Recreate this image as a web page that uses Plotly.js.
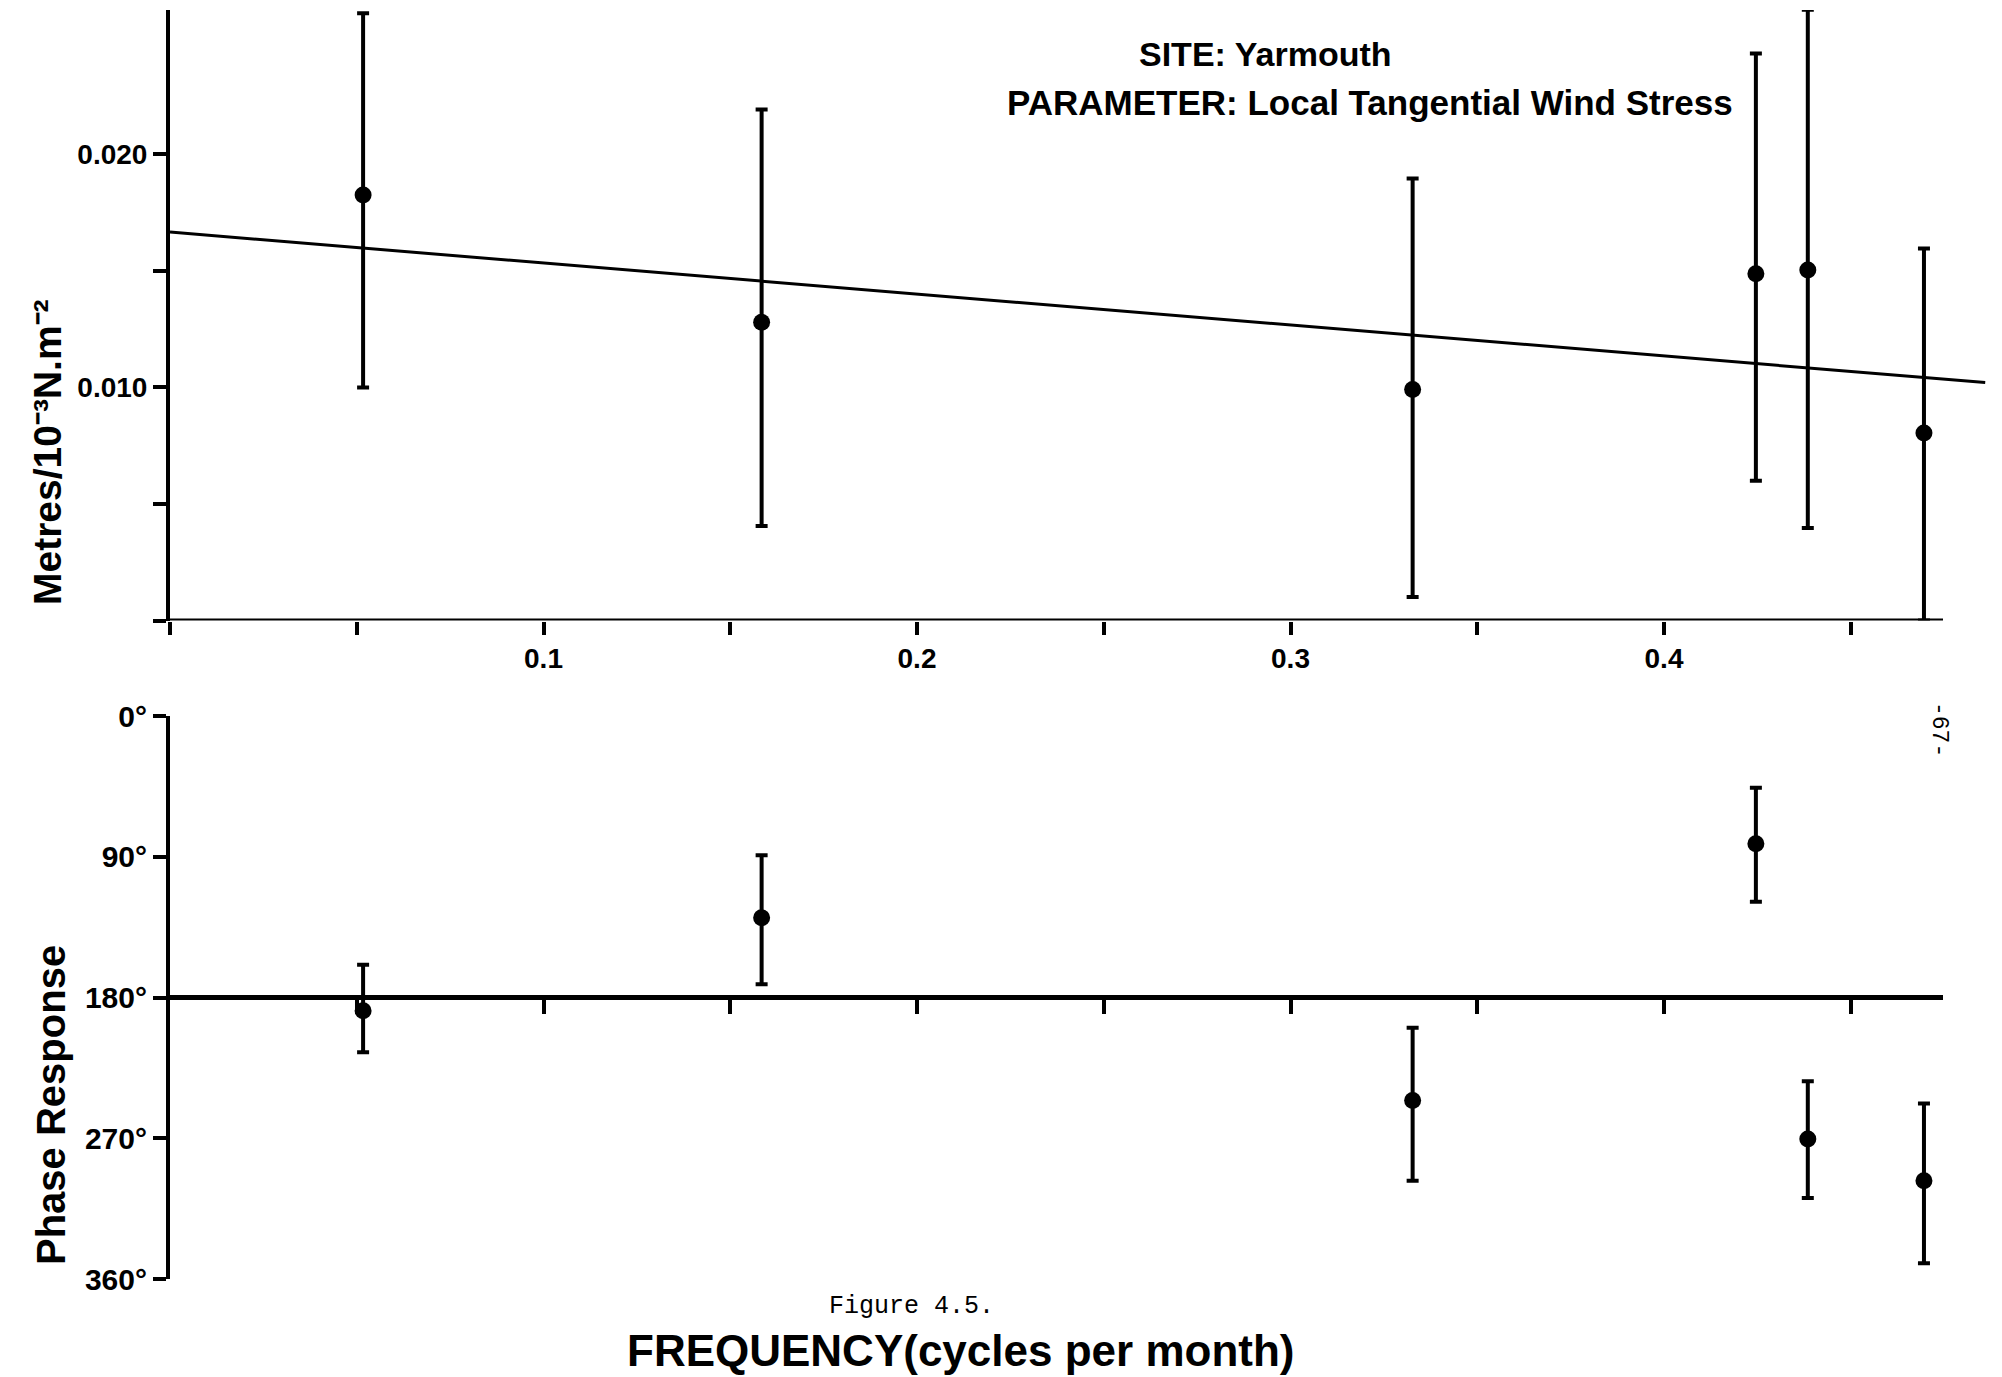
<!DOCTYPE html>
<html>
<head>
<meta charset="utf-8">
<script src="https://cdn.plot.ly/plotly-3.0.1.min.js"></script>
<style>
  html, body { margin: 0; padding: 0; background: #ffffff; }
  #chart { width: 2002px; height: 1377px; }
</style>
</head>
<body>
<div id="chart"></div>
<script>
// ---------------- data ----------------
const freq      = [0.0517, 0.1584, 0.3327, 0.4246, 0.4385, 0.4696];   // cycles per month
const amp       = [0.01826, 0.0128, 0.00991, 0.01488, 0.01504, 0.00805];
const ampHigh   = [0.02606, 0.02193, 0.01897, 0.02433, 0.02621, 0.01596];
const ampLow    = [0.01000, 0.00406, 0.00101, 0.00600, 0.00397, 0.00000];
const phase     = [188.5, 129.0, 245.9, 81.7, 270.5, 297.2];          // degrees
const phaseMin  = [159.0, 89.0, 199.4, 45.8, 233.5, 247.7];
const phaseMax  = [215.0, 171.5, 297.2, 118.7, 308.2, 350.0];
const fitFreq   = [0, 0.486];
const fitAmp    = [0.01667, 0.01021];

const ampTickVals    = [0.010, 0.020];
const ampTickText    = ['0.010', '0.020'];
const ampMinorVals   = [0, 0.005, 0.015];
const freqTickVals   = [0.1, 0.2, 0.3, 0.4];
const freqTickText   = ['0.1', '0.2', '0.3', '0.4'];
const freqMinorVals  = [0, 0.05, 0.15, 0.25, 0.35, 0.45];
const freqMinorVals2 = [0.05, 0.15, 0.25, 0.35, 0.45];
const phaseTickVals  = [0, 90, 180, 270, 360];
const phaseTickText  = ['0°', '90°', '180°', '270°', '360°'];
const phaseRef  = 180;
const xAxisEnd  = 0.4747;

// ---------------- layout helpers ----------------
const W = 2002, H = 1377;
const fx = p => p / W;
const fy = p => 1 - p / H;
const BOLD = 'Liberation Sans, Arial, sans-serif';

const errStyle = { thickness: 4, width: 6, color: '#000' };

const traces = [
  {
    x: fitFreq, y: fitAmp, xaxis: 'x', yaxis: 'y',
    mode: 'lines', line: { color: '#000', width: 3 }, hoverinfo: 'skip'
  },
  {
    x: freq, y: amp, xaxis: 'x', yaxis: 'y', mode: 'markers',
    marker: { color: '#000', size: 17 },
    cliponaxis: false,
    error_y: Object.assign({
      type: 'data', symmetric: false,
      array: ampHigh.map((v, i) => v - amp[i]),
      arrayminus: amp.map((v, i) => v - ampLow[i])
    }, errStyle)
  },
  {
    x: freq, y: phase, xaxis: 'x2', yaxis: 'y2', mode: 'markers',
    marker: { color: '#000', size: 17 },
    cliponaxis: false,
    error_y: Object.assign({
      type: 'data', symmetric: false,
      array: phaseMax.map((v, i) => v - phase[i]),
      arrayminus: phase.map((v, i) => v - phaseMin[i])
    }, errStyle)
  }
];

const xDomain = [fx(170), fx(1990)];
const xRange = [0, (1990 - 170) / 3735];

const tickFont = { family: BOLD, size: 28, color: '#000', weight: 'bold' };
const degFont  = { family: BOLD, size: 30, color: '#000', weight: 'bold' };
const tickStyle = { ticks: 'outside', ticklen: 13, tickwidth: 4, tickcolor: '#000' };
const minorStyle = (vals, len) => ({ tickmode: 'array', tickvals: vals, ticks: 'outside',
                                     ticklen: len, tickwidth: 4, tickcolor: '#000', showgrid: false });

const layout = {
  width: W, height: H,
  margin: { l: 0, r: 0, t: 0, b: 0, pad: 0 },
  paper_bgcolor: '#fff', plot_bgcolor: 'rgba(0,0,0,0)',
  showlegend: false,
  xaxis: Object.assign({
    domain: xDomain, range: xRange, anchor: 'y',
    showline: false, showgrid: false, zeroline: false,
    tickmode: 'array', tickvals: freqTickVals, ticktext: freqTickText,
    tickfont: tickFont, minor: minorStyle(freqMinorVals, 13)
  }, tickStyle),
  yaxis: Object.assign({
    domain: [fy(620.5), fy(10)], range: [0, 0.0262], anchor: 'x',
    showline: true, linewidth: 4, linecolor: '#000',
    showgrid: false, zeroline: false,
    tickmode: 'array', tickvals: ampTickVals, ticktext: ampTickText,
    tickfont: tickFont, minor: minorStyle(ampMinorVals, 13)
  }, tickStyle),
  xaxis2: Object.assign({
    domain: xDomain, range: xRange, anchor: 'free', position: fy(997.5),
    showline: false, showgrid: false, zeroline: false,
    tickmode: 'array', tickvals: freqTickVals, showticklabels: false,
    minor: minorStyle(freqMinorVals2, 15)
  }, tickStyle, { ticklen: 15 }),
  yaxis2: Object.assign({
    domain: [fy(1279), fy(716)], range: [360, 0], anchor: 'x2',
    showline: true, linewidth: 4, linecolor: '#000',
    showgrid: false, zeroline: false,
    tickmode: 'array', tickvals: phaseTickVals, ticktext: phaseTickText,
    tickfont: degFont
  }, tickStyle),
  shapes: [
    { type: 'line', xref: 'x', yref: 'y', x0: 0, x1: xAxisEnd, y0: 0, y1: 0,
      line: { color: '#000', width: 4 } },
    { type: 'line', xref: 'x2', yref: 'y2', x0: 0, x1: xAxisEnd, y0: phaseRef, y1: phaseRef,
      line: { color: '#000', width: 5 } }
  ],
  annotations: [
    { text: 'SITE: Yarmouth', xref: 'paper', yref: 'paper', x: fx(1265), y: fy(54),
      xanchor: 'center', yanchor: 'middle', showarrow: false,
      font: { family: BOLD, size: 34, color: '#000', weight: 'bold' } },
    { text: 'PARAMETER: Local Tangential Wind Stress', xref: 'paper', yref: 'paper', x: fx(1370), y: fy(102),
      xanchor: 'center', yanchor: 'middle', showarrow: false,
      font: { family: BOLD, size: 35, color: '#000', weight: 'bold' } },
    { text: 'Metres/10⁻³N.m⁻²', xref: 'paper', yref: 'paper', x: fx(48), y: fy(452),
      xanchor: 'center', yanchor: 'middle', showarrow: false, textangle: -90,
      font: { family: BOLD, size: 39, color: '#000', weight: 'bold' } },
    { text: 'Phase Response', xref: 'paper', yref: 'paper', x: fx(51), y: fy(1105),
      xanchor: 'center', yanchor: 'middle', showarrow: false, textangle: -90,
      font: { family: BOLD, size: 40, color: '#000', weight: 'bold' } },
    { text: 'Figure 4.5.', xref: 'paper', yref: 'paper', x: fx(911), y: fy(1306),
      xanchor: 'center', yanchor: 'middle', showarrow: false,
      font: { family: 'Liberation Mono, DejaVu Sans Mono, monospace', size: 25, color: '#000' } },
    { text: 'FREQUENCY(cycles per month)', xref: 'paper', yref: 'paper', x: fx(960), y: fy(1350),
      xanchor: 'center', yanchor: 'middle', showarrow: false,
      font: { family: BOLD, size: 44, color: '#000', weight: 'bold' } },
    { text: '-67-', xref: 'paper', yref: 'paper', x: fx(1939), y: fy(729),
      xanchor: 'center', yanchor: 'middle', showarrow: false, textangle: 90,
      font: { family: 'Liberation Mono, DejaVu Sans Mono, monospace', size: 23, color: '#000' } }
  ]
};

Plotly.newPlot('chart', traces, layout, { staticPlot: true, displayModeBar: false });
</script>
</body>
</html>
